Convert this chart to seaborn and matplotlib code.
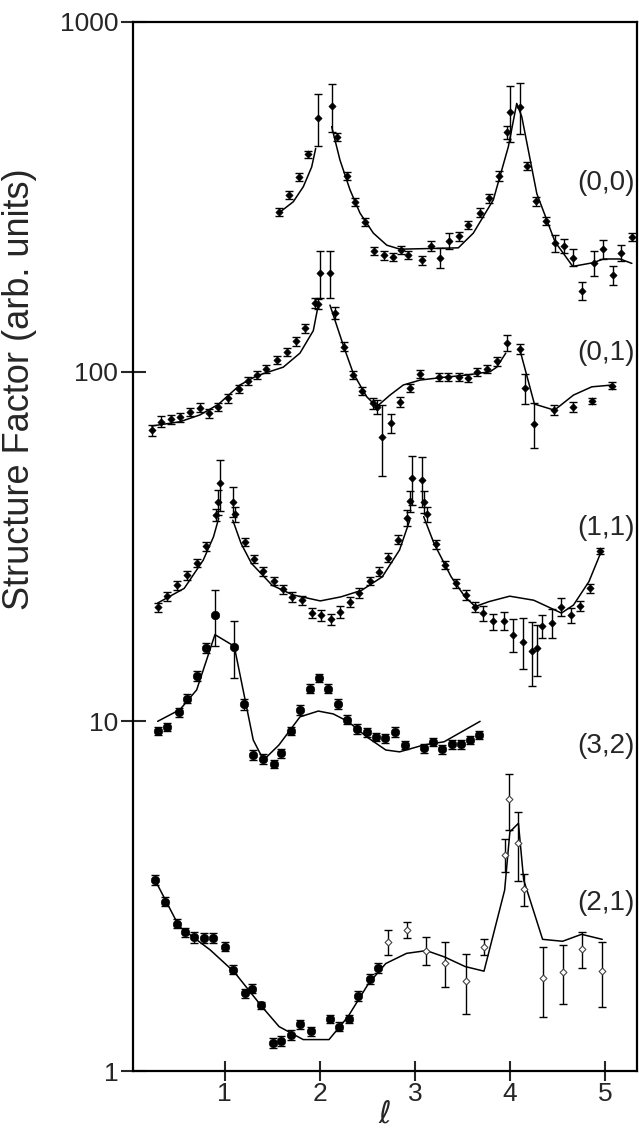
import numpy as np
import pandas as pd
import matplotlib
matplotlib.use("Agg")
import matplotlib.pyplot as plt
from matplotlib.ticker import NullLocator
import seaborn as sns

nan = np.nan

# (0,0) rod: measured points, errors and model curve
x00 = [1.575, 1.677, 1.782, 1.880, 1.979, 2.132, 2.179, 2.287, 2.374, 2.476, 2.574, 2.673, 2.771,
       2.852, 2.932, 3.076, 3.174, 3.265, 3.363, 3.465, 3.563, 3.682, 3.783, 3.882, 3.973, 3.998,
       4.109, 4.183, 4.278, 4.376, 4.474, 4.566, 4.664, 4.758, 4.884, 4.979, 5.087, 5.168, 5.284]
y00 = [286, 320, 361, 418, 533, 575, 468, 363, 306, 268, 221, 215, 213, 223, 216, 208, 229, 212,
       237, 244, 263, 285, 313, 363, 484, 554, 572, 388, 307, 270, 233, 229, 212, 170, 205, 224,
       189, 219, 243]
e00 = [8, 9, 10, 11, 90, 90, 12, 10, 8, 7, 6, 6, 6, 6, 6, 6, 8, 14, 12, 7, 7, 8, 9, 12, 20, 100,
       95, 11, 9, 7, 13, 11, 12, 10, 17, 14, 12, 12, 6]
fx00 = [1.575, 1.722, 1.828, 1.916, 1.958, nan, 2.126, 2.213, 2.319, 2.424, 2.564, 2.705, 2.844,
        3.160, 3.457, 3.615, 3.825, 3.983, 4.071, 4.124, 4.282, 4.474, 4.660, 4.877, 4.982, 5.158,
        5.281]
fy00 = [285, 306, 338, 385, 435, nan, 502, 403, 331, 284, 249, 230, 224, 225, 226, 249, 310, 440,
        585, 536, 323, 235, 200, 205, 210, 210, 204]

# (0,1) rod
x01 = [0.233, 0.331, 0.433, 0.531, 0.639, 0.738, 0.839, 0.934, 1.033, 1.148, 1.243, 1.341, 1.438,
       1.551, 1.653, 1.751, 1.845, 1.951, 1.979, 2.000, 2.105, 2.158, 2.252, 2.350, 2.445, 2.564,
       2.599, 2.658, 2.753, 2.848, 2.946, 3.055, 3.254, 3.352, 3.462, 3.559, 3.657, 3.756, 3.861,
       3.966, 4.109, 4.159, 4.257, 4.467, 4.667, 4.860, 5.076]
y01 = [68.1, 71.9, 73.1, 74.0, 76.8, 78.9, 76.0, 79.4, 83.9, 89.2, 94.0, 97.8, 102, 108, 114, 122,
       133, 157, 156, 192, 192, 147, 118, 97.8, 88.2, 81.2, 79.4, 65.2, 71.2, 82.0, 89.6, 98.5,
       96.7, 96.7, 96.7, 96.1, 100, 102, 107, 121, 116, 89.6, 70.8, 77.6, 79.4, 82.4, 91.2]
e01 = [2.5, 2.6, 2.2, 2.0, 2.1, 2.2, 2.1, 2.2, 2.3, 2.4, 2.5, 2.6, 2.7, 2.9, 3.0, 3.3, 3.6, 5, 5,
       30, 30, 6, 3.2, 2.6, 2.4, 3.0, 3.6, 15, 4.4, 2.5, 2.4, 2.7, 2.6, 2.6, 2.6, 2.6, 2.7, 2.8,
       2.9, 6.5, 4, 9, 10.5, 2.6, 2.6, 1.8, 2.0]
fx01 = [0.233, 0.531, 0.741, 0.934, 1.162, 1.338, 1.617, 1.793, 1.933, 1.985, nan, 2.108, 2.248,
        2.353, 2.494, 2.599, 2.739, 2.879, 3.055, 3.265, 3.546, 3.791, 3.861, 3.956, nan, 4.106,
        4.257, 4.467, 4.667, 4.860, 5.076]
fy01 = [69.9, 71.9, 75.2, 80.6, 91.6, 97.3, 103, 113, 131, 155, nan, 155, 119, 98.9, 84.8, 79.4,
        85.7, 91.6, 94.6, 96.1, 97.8, 100, 103, 113, nan, 115, 80.8, 77.6, 85.7, 90.5, 91.6]

# (1,1) rod
x11 = [0.298, 0.400, 0.501, 0.606, 0.707, 0.809, 0.906, 0.932, 0.957, 1.087, 1.112, 1.210, 1.311,
       1.402, 1.517, 1.615, 1.713, 1.815, 1.916, 2.014, 2.115, 2.217, 2.314, 2.412, 2.528, 2.626,
       2.723, 2.824, 2.915, 2.947, 2.973, 3.075, 3.100, 3.128, 3.223, 3.316, 3.429, 3.534, 3.632,
       3.718, 3.820, 3.932, 4.029, 4.135, 4.232, 4.287, 4.338, 4.443, 4.541, 4.638, 4.739, 4.837,
       4.945]
y11 = [21.2, 22.8, 24.5, 26.2, 28.4, 31.7, 38.9, 42.5, 47.9, 42.5, 39.1, 32.6, 29.1, 26.9, 25.2,
       23.9, 22.7, 22.2, 20.4, 20.1, 19.6, 20.6, 22.0, 23.3, 25.2, 26.8, 29.4, 33.1, 38.1, 42.7,
       49.5, 49.0, 42.5, 39.1, 32.1, 28.0, 24.8, 23.0, 21.3, 20.4, 19.3, 19.4, 17.7, 16.9, 15.9,
       16.2, 18.7, 19.1, 21.3, 20.1, 21.4, 24.0, 30.7]
e11 = [0.6, 0.7, 0.7, 0.8, 0.8, 0.9, 1.6, 3.5, 8, 4.2, 2, 0.9, 0.8, 0.8, 0.7, 0.7, 0.7, 0.7, 0.7,
       0.7, 0.7, 0.8, 0.7, 0.7, 0.7, 0.8, 0.9, 1.0, 2, 3, 8, 8, 3, 2, 0.9, 0.8, 0.7, 0.7, 0.7, 1.0,
       1.0, 1.2, 1.9, 2.8, 3.3, 2.7, 1.4, 1.8, 1.3, 1.0, 0.7, 0.7, 0.6]
fx11 = [0.298, 0.576, 0.776, 0.884, 0.939, nan, 1.087, 1.173, 1.283, 1.500, 1.717, 2.006, 2.224,
        2.441, 2.658, 2.839, 2.947, nan, 3.093, 3.201, 3.382, 3.527, 3.635, 3.780, 3.997, 4.250,
        4.541, 4.667, 4.830, 4.957]
fy11 = [21.8, 24.0, 28.9, 33.7, 38.1, nan, 37.6, 32.3, 28.3, 24.5, 23.0, 22.1, 22.7, 23.7, 25.9,
        30.9, 37.6, nan, 38.5, 32.3, 25.9, 22.7, 21.3, 22.0, 22.8, 22.2, 20.4, 21.5, 25.1, 30.5]

# (3,2) rod
x32 = [0.297, 0.394, 0.524, 0.601, 0.707, 0.804, 0.899, 1.102, 1.204, 1.301, 1.403, 1.518, 1.598,
       1.698, 1.796, 1.895, 1.989, 2.090, 2.192, 2.290, 2.389, 2.494, 2.589, 2.687, 2.789, 2.895,
       3.094, 3.191, 3.285, 3.387, 3.488, 3.584, 3.678]
y32 = [9.38, 9.61, 10.6, 11.6, 13.5, 16.2, 20.1, 16.3, 11.2, 8.01, 7.79, 7.55, 8.10, 9.40, 10.8,
       12.4, 13.3, 12.4, 11.2, 10.1, 9.51, 9.30, 9.03, 8.94, 9.34, 8.56, 8.37, 8.74, 8.32, 8.61,
       8.61, 8.84, 9.14]
e32 = [0.25, 0.25, 0.3, 0.35, 0.45, 0.5, 3.7, 3.0, 0.4, 0.25, 0.25, 0.2, 0.25, 0.25, 0.35, 0.35,
       0.35, 0.35, 0.35, 0.3, 0.3, 0.25, 0.25, 0.25, 0.3, 0.25, 0.25, 0.25, 0.25, 0.25, 0.25, 0.25,
       0.25]
fx32 = [0.297, 0.531, 0.707, 0.812, 0.899, 1.102, 1.302, 1.410, 1.572, 1.793, 1.985, 2.143, 2.301,
        2.494, 2.695, 2.840, 3.094, 3.307, 3.686]
fy32 = [10.0, 10.8, 12.3, 15.0, 17.7, 16.4, 8.84, 7.75, 8.56, 10.3, 10.7, 10.5, 9.98, 9.03, 8.28,
        8.18, 8.56, 8.74, 10.0]

# (2,1) rod: filled points (low l) and open points (high l)
x21f = [0.269, 0.370, 0.497, 0.585, 0.682, 0.780, 0.877, 1.001, 1.091, 1.218, 1.287, 1.385, 1.511,
        1.598, 1.699, 1.797, 1.905, 2.108, 2.206, 2.304, 2.399, 2.532, 2.615]
y21f = [3.52, 3.05, 2.64, 2.49, 2.41, 2.40, 2.40, 2.27, 1.95, 1.67, 1.72, 1.54, 1.20, 1.22, 1.27,
        1.36, 1.30, 1.41, 1.34, 1.41, 1.64, 1.83, 1.97]
e21f = [0.11, 0.09, 0.08, 0.08, 0.08, 0.08, 0.08, 0.07, 0.06, 0.05, 0.05, 0.04, 0.04, 0.04, 0.04,
        0.04, 0.04, 0.04, 0.04, 0.04, 0.05, 0.06, 0.06]
x21o = [2.717, 2.913, 3.122, 3.322, 3.535, 3.731, 3.948, 3.992, 4.089, 4.144, 4.343, 4.553, 4.752,
        4.970]
y21o = [2.34, 2.53, 2.21, 2.04, 1.81, 2.26, 4.15, 5.98, 4.50, 3.31, 1.85, 1.92, 2.23, 1.93]
e21o = [0.19, 0.13, 0.2, 0.3, 0.35, 0.12, 0.45, 1.1, 1.0, 0.35, 0.42, 0.37, 0.26, 0.41]
fx21 = [0.269, 0.523, 0.849, 1.102, 1.391, 1.573, 1.827, 2.098, 2.297, 2.514, 2.695, 2.913, 3.122,
        3.311, 3.528, 3.727, 3.944, 3.999, 4.089, 4.144, 4.343, 4.553, 4.752, 4.970]
fy21 = [3.52, 2.59, 2.22, 1.92, 1.53, 1.34, 1.23, 1.23, 1.43, 1.78, 2.03, 2.17, 2.21, 2.12, 1.99,
        1.93, 3.29, 4.83, 5.11, 3.52, 2.38, 2.35, 2.46, 2.38]

rod_names = ["(0,0)", "(0,1)", "(1,1)", "(3,2)", "(2,1)"]
rod_label_y = [0.8465, 0.6845, 0.5176, 0.3098, 0.1602]  # axes fraction


def fit_frame(xs, ys):
    ys = np.asarray(ys, float)
    seg = np.cumsum(np.isnan(ys))
    return pd.DataFrame({"l": xs, "F": ys, "seg": seg}).dropna()


sns.set_theme(style="ticks")
plt.rcParams["font.family"] = ["Liberation Sans", "DejaVu Sans"]
plt.rcParams["mathtext.fontset"] = "dejavusans"

fig, ax = plt.subplots(figsize=(6.39, 11.33), dpi=100)
fig.subplots_adjust(left=0.208, right=0.997, top=0.9806, bottom=0.0547)
ax.set_yscale("log")

# model curves
for fx, fy in [(fx00, fy00), (fx01, fy01), (fx11, fy11), (fx32, fy32), (fx21, fy21)]:
    sns.lineplot(data=fit_frame(fx, fy), x="l", y="F", units="seg", estimator=None, sort=False,
                 color="black", lw=1.1, ax=ax)

# error bars
ebar = dict(fmt="none", ecolor="black", elinewidth=1.0, capsize=2.6, capthick=1.0, zorder=2)
for xs, ys, es in [(x00, y00, e00), (x01, y01, e01), (x11, y11, e11), (x32, y32, e32),
                   (x21f, y21f, e21f), (x21o, y21o, e21o)]:
    ax.errorbar(xs, ys, yerr=es, **ebar)

# markers
for xs, ys in [(x00, y00), (x01, y01), (x11, y11)]:
    sns.scatterplot(x=xs, y=ys, marker="D", s=14, color="black", edgecolor="black",
                    linewidth=0.4, ax=ax, zorder=3)
for xs, ys in [(x32, y32), (x21f, y21f)]:
    sns.scatterplot(x=xs, y=ys, marker="o", s=38, color="black", edgecolor="black",
                    linewidth=0.4, ax=ax, zorder=3)
sns.scatterplot(x=x21o, y=y21o, marker="D", s=12, color="white", edgecolor="#444444",
                linewidth=0.8, ax=ax, zorder=3)

for name, yy in zip(rod_names, rod_label_y):
    ax.text(0.995, yy, name, transform=ax.transAxes, ha="right", va="center", fontsize=20)

ax.set_xlim(0.037, 5.336)
ax.set_ylim(1, 1000)
ax.set_xticks([1, 2, 3, 4, 5])
ax.set_yticks([1, 10, 100, 1000], ["1", "10", "100", "1000"])
ax.yaxis.set_minor_locator(NullLocator())
ax.xaxis.set_minor_locator(NullLocator())
ax.tick_params(axis="y", direction="inout", length=18, width=1.5, labelsize=19, pad=1.5)
ax.tick_params(axis="x", direction="inout", length=14, width=1.5, labelsize=19, pad=1)
for sp in ax.spines.values():
    sp.set_linewidth(1.6)
    sp.set_color("black")

ax.set_xlabel(r"$\ell$", fontsize=22, labelpad=-5)
ax.set_ylabel("Structure Factor (arb. units)", fontsize=26)
ax.yaxis.set_label_coords(-0.19, 0.65)

fig.savefig("out.png", dpi=100)
